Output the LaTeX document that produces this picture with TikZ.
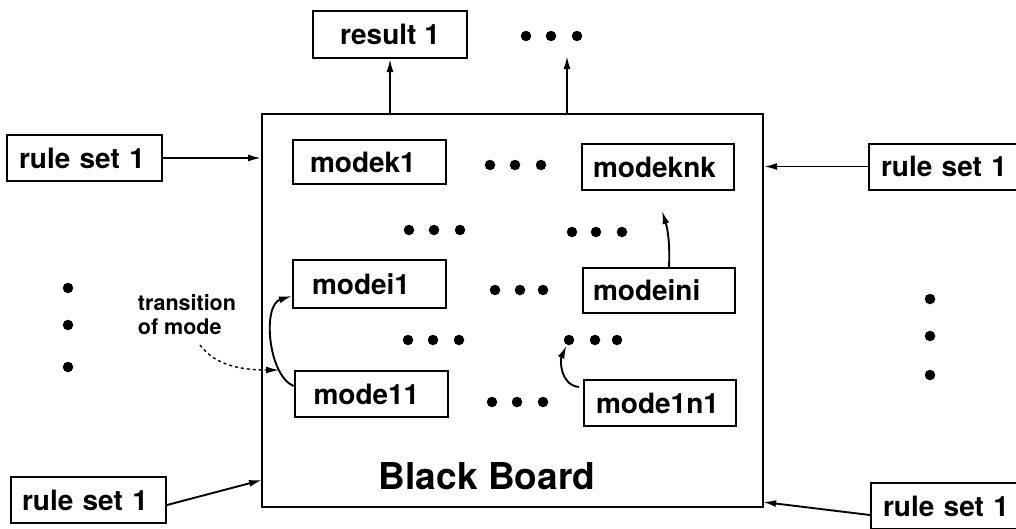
\documentclass[tikz,border=0pt]{standalone}
\usepackage{fontspec}
\setmainfont{TeX Gyre Heros}
\usetikzlibrary{arrows.meta}
\begin{document}
\begin{tikzpicture}[x=1pt,y=-1pt,
  line width=1.9pt,
  box/.style={draw,line width=2pt,inner ysep=0pt,font=\fontsize{28}{30}\selectfont\bfseries},
  lbox/.style={box,align=left,inner xsep=#1,text width=153pt-2*#1},
  rbox/.style={box,align=left,inner xsep=#1,text width=152pt-2*#1},
  rulebox/.style={box,align=left,inner xsep=#1,text width=155pt-2*#1,minimum height=46pt},
  arr/.style={-{Latex[length=13pt,width=7pt]}},
  dot/.style={circle,fill,inner sep=0pt,minimum size=10.5pt}]
\useasboundingbox (0,0) rectangle (1016,528);

% the black board and its mode boxes
\node[draw,line width=2pt,minimum width=501pt,minimum height=393pt] (board) at (512.5,310.5) {};
\node[font=\fontsize{37}{40}\selectfont\bfseries] (bbtext) at (487,476) {Black Board};

\node[lbox=17pt,minimum height=44pt] (mk1) at (369.5,162) {modek1};
\node[rbox=11pt,minimum height=46pt] (mknk) at (658,167) {modeknk};
\node[lbox=19pt,minimum height=48pt] (mi1) at (369.5,284) {modei1};
\node[rbox=10pt,minimum height=45pt] (mini) at (659,290.5) {modeini};
\node[lbox=19pt,minimum height=46pt] (m11) at (371,394) {mode11};
\node[rbox=12pt,minimum height=46pt] (m1n1) at (660,403) {mode1n1};

% results
\node[box,minimum width=154pt,minimum height=47pt] (res) at (390,34.5) {result 1};
\node[dot] (t1) at (526,36) {};
\node[dot] (t2) at (551,36) {};
\node[dot] (t3) at (577,36) {};
\coordinate (tend) at (567,56);

% rule sets
\node[rulebox=12pt] (rs1) at (84.5,158) {rule set 1};
\node[rulebox=12pt,anchor=west] (rs2) at (868,166.5) {rule set 1};
\node[rulebox=11pt] (rs3) at (88.5,500) {rule set 1};
\node[rulebox=12pt,anchor=west] (rs4) at (870,506) {rule set 1};

% ellipsis dots inside the board
\foreach \x/\y [count=\i] in {490/165,515/165,541/165,
    409/230,434/230,460/230, 572/232,596/232,622/232,
    495/290,520/290,543/290,
    408/340,433/340,459/340, 569/340,595/340,617/340,
    492/402,517/402,543/402}
  \node[dot] (d\i) at (\x,\y) {};

% ellipsis dots beside the board
\node[dot] (l1) at (68,288) {};
\node[dot] (l2) at (68,325) {};
\node[dot] (l3) at (68,367) {};
\node[dot] (r1) at (930,299) {};
\node[dot] (r2) at (930,336) {};
\node[dot] (r3) at (930,375) {};

% transition label
\node[anchor=west,align=left,inner sep=0pt,
  font=\fontsize{21.5}{24}\selectfont\bfseries] (trans) at (137,315)
  {transition\\of mode};

% connectors
\draw[arr] (board.north -| res.south) -- (res.south);
\draw[arr] (board.north -| tend) -- (tend);
\draw[arr] (rs1.east) -- (rs1.east -| board.west);
\draw[arr] (rs2.west) -- (rs2.west -| board.east);
\coordinate (b3) at (262,480);
\coordinate (b4) at (763,502);
\draw[arr] ([yshift=-5pt]rs3.east) -- (b3);
\draw[arr] ([yshift=-9pt]rs4.west) -- (b4);

% mode transitions
\draw[arr] ([yshift=8pt]m11.west) .. controls (268,375) and (262,305) .. ([yshift=-12pt]mi1.west);
\draw[arr] ([xshift=10pt]mini.north) .. controls (670,245) and (668,230) .. (662,211);
\draw[arr] ([xshift=-4pt,yshift=-8pt]m1n1.north west) .. controls (560,385) and (560,360) .. (d16);
\coordinate (tr) at (279,370);
\draw[dashed,line width=1.4pt,arr] (200,345) .. controls (215,365) and (240,370) .. (tr);
\end{tikzpicture}
\end{document}
